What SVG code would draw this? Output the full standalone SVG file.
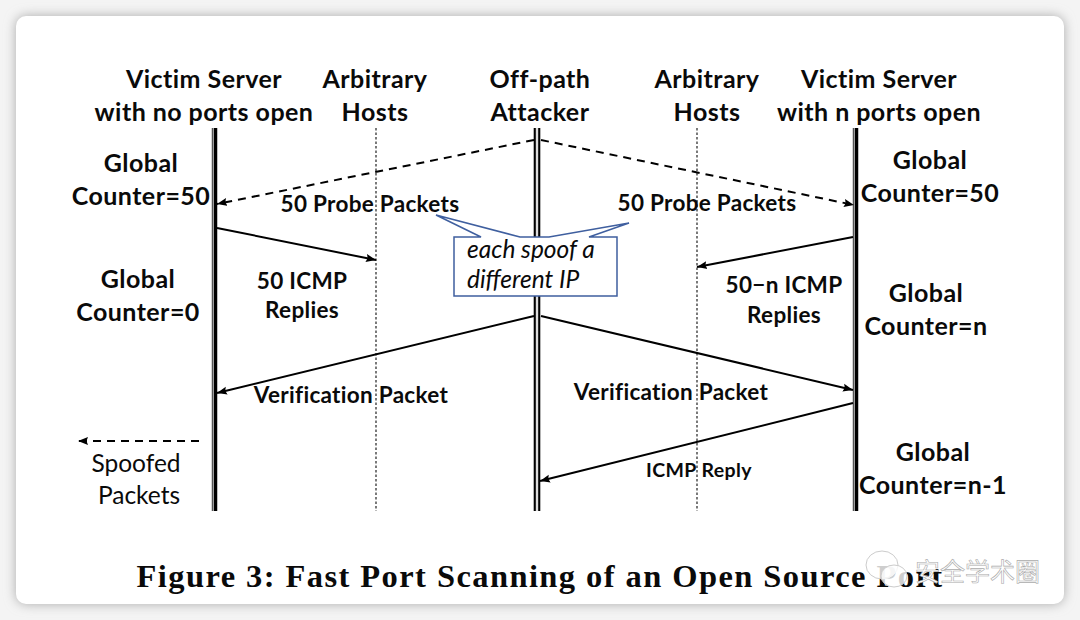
<svg xmlns="http://www.w3.org/2000/svg" width="1080" height="620" viewBox="0 0 1080 620">
<style>
text{font-family:"Lato","Liberation Sans","Noto Sans CJK SC",sans-serif;fill:#0a0a0a;text-anchor:middle}
.b{font-weight:700;font-size:25px;letter-spacing:.45px}
.m{font-weight:700;font-size:22.5px;letter-spacing:.3px}
.s{font-weight:700;font-size:19.5px;letter-spacing:.4px}
.r{font-size:24.5px}
.i{font-style:italic;font-size:24.5px;text-anchor:start}
.cap{font-family:"Liberation Serif","Noto Serif",serif;font-weight:700;font-size:32.5px;letter-spacing:1.42px}
.wm{font-family:"Noto Sans CJK SC",sans-serif;font-size:25px;fill:#fff;stroke:#aaa;stroke-width:.6;text-anchor:start}
.dot{stroke:#222;stroke-width:1.2;stroke-dasharray:2.5 2;fill:none}
.ln{stroke:#000;stroke-width:2;fill:none;marker-end:url(#a)}
.da{stroke:#000;stroke-width:2;stroke-dasharray:8 6;fill:none;marker-end:url(#a)}
</style>
<defs>
<marker id="a" markerUnits="userSpaceOnUse" markerWidth="11" markerHeight="9" refX="10" refY="4.5" orient="auto"><path d="M0 0.500L10 4.500L0 8.500L1.500 4.500Z" fill="#000"/></marker>
<filter id="sh" x="-5%" y="-5%" width="110%" height="110%"><feGaussianBlur stdDeviation="6"/></filter>
</defs>
<rect width="1080" height="620" fill="#f4f4f4"/>
<rect x="16" y="16" width="1048" height="588" rx="10" fill="#aaa" filter="url(#sh)"/>
<rect x="16" y="16" width="1048" height="588" rx="10" fill="#fff"/>

<g id="node-victim-left">
<text class="b" x="204" y="88">Victim Server</text>
<text class="b" x="204" y="121">with no ports open</text>
<path d="M212.500 128V511" stroke="#555" stroke-width="1.500"/><path d="M215.500 128V511" stroke="#000" stroke-width="3.500"/>
<text class="b" x="141" y="172">Global</text>
<text class="b" x="141" y="205">Counter=50</text>
<text class="b" x="138" y="288">Global</text>
<text class="b" x="138" y="321">Counter=0</text>
</g>
<g id="node-hosts-left">
<text class="b" x="375" y="88">Arbitrary</text>
<text class="b" x="375" y="121">Hosts</text>
<path class="dot" d="M376 128V511"/>
</g>
<g id="node-attacker">
<text class="b" x="540" y="88">Off-path</text>
<text class="b" x="540" y="121">Attacker</text>
<path d="M534.800 128V511M539.200 128V511" stroke="#000" stroke-width="2.200"/><path d="M537 128V511" stroke="#ddd" stroke-width="2.200"/>
</g>
<g id="node-hosts-right">
<text class="b" x="707" y="88">Arbitrary</text>
<text class="b" x="707" y="121">Hosts</text>
<path class="dot" d="M697 128V511"/>
</g>
<g id="node-victim-right">
<text class="b" x="879" y="88">Victim Server</text>
<text class="b" x="879" y="121">with n ports open</text>
<path d="M853.500 128V511" stroke="#555" stroke-width="1.500"/><path d="M856.500 128V511" stroke="#000" stroke-width="3.500"/>
<text class="b" x="930" y="169">Global</text>
<text class="b" x="930" y="202">Counter=50</text>
<text class="b" x="926" y="302">Global</text>
<text class="b" x="926" y="335">Counter=n</text>
<text class="b" x="933" y="461">Global</text>
<text class="b" x="933" y="494">Counter=n-1</text>
</g>

<g id="connectors">
<path class="da" d="M534 140L217 204"/>
<path class="da" d="M541 140L854 205"/>
<path class="ln" d="M217 228L376 260"/>
<path class="ln" d="M853 237L697 267"/>
<path class="ln" d="M534 316L217 393"/>
<path class="ln" d="M541 316L853 390"/>
<path class="ln" d="M853 403L540 481"/>
<path class="da" d="M199 441H78"/>
</g>

<g id="callout">
<path d="M454 237V296H617V237H589L629 223L549 237H520L436 215L481 237Z" fill="#fff" stroke="#3f5f9f" stroke-width="1.500"/>
<text class="i" x="467" y="258">each spoof a</text>
<text class="i" x="467" y="288">different IP</text>
</g>

<g id="labels">
<text class="m" x="370" y="212">50 Probe Packets</text>
<text class="m" x="707" y="211">50 Probe Packets</text>
<text class="m" x="302" y="289">50 ICMP</text>
<text class="m" x="302" y="318">Replies</text>
<text class="m" x="784" y="293">50−n ICMP</text>
<text class="m" x="784" y="323">Replies</text>
<text class="m" x="351" y="403">Verification Packet</text>
<text class="m" x="671" y="400">Verification Packet</text>
<text class="s" x="699" y="477">ICMP Reply</text>
<text class="r" x="136" y="472">Spoofed</text>
<text class="r" x="139" y="504">Packets</text>
</g>

<text class="cap" x="540" y="587">Figure 3: Fast Port Scanning of an Open Source Port</text>

<g id="watermark">
<ellipse cx="882" cy="565" rx="16" ry="14" fill="#fff" fill-opacity=".8" stroke="#ccc"/>
<ellipse cx="894" cy="576" rx="13" ry="11" fill="#fff" fill-opacity=".8" stroke="#ccc"/>
<text class="wm" x="915" y="581">安全学术圈</text>
</g>
</svg>
